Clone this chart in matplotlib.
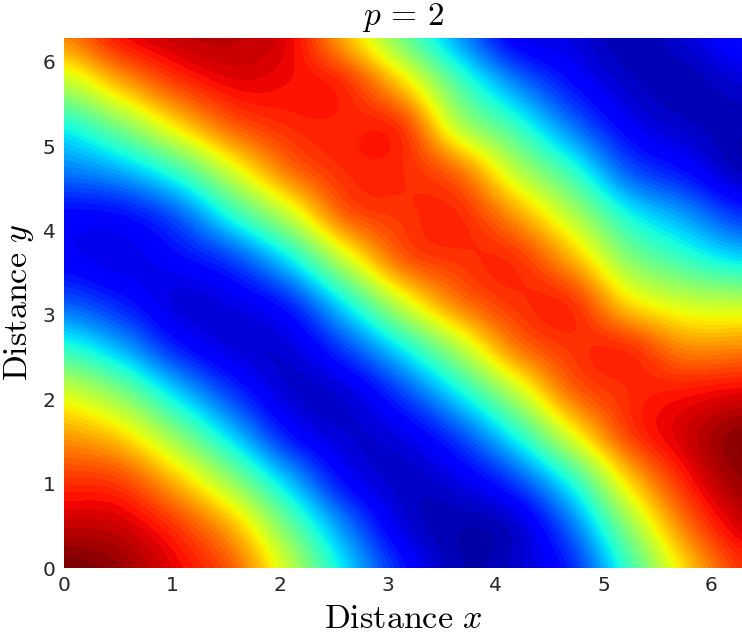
import numpy as np
import matplotlib
matplotlib.use('Agg')
import matplotlib.pyplot as plt

plt.rcParams['mathtext.fontset'] = 'cm'

# grid positions along each axis
x = [0, 0.52, 1.05, 1.57, 2.09, 2.62, 3.14, 3.67, 4.19, 4.71, 5.24, 5.76, 6.28]
y = [0, 0.52, 1.05, 1.57, 2.09, 2.62, 3.14, 3.67, 4.19, 4.71, 5.24, 5.76, 6.28]

# field, one row per x column
z_by_column = [
    [1.00, 0.93, 0.85, 0.74, 0.60, 0.40, 0.22, 0.12, 0.13, 0.25, 0.38, 0.58, 0.76],
    [0.97, 0.92, 0.83, 0.68, 0.50, 0.30, 0.16, 0.10, 0.14, 0.30, 0.50, 0.72, 0.88],
    [0.90, 0.84, 0.70, 0.52, 0.33, 0.16, 0.09, 0.13, 0.22, 0.42, 0.66, 0.84, 0.93],
    [0.80, 0.70, 0.52, 0.33, 0.18, 0.09, 0.10, 0.20, 0.40, 0.61, 0.80, 0.90, 0.94],
    [0.58, 0.47, 0.31, 0.15, 0.08, 0.09, 0.17, 0.36, 0.59, 0.78, 0.86, 0.89, 0.90],
    [0.34, 0.25, 0.13, 0.08, 0.09, 0.20, 0.37, 0.60, 0.80, 0.86, 0.87, 0.85, 0.72],
    [0.15, 0.09, 0.07, 0.10, 0.20, 0.37, 0.60, 0.80, 0.85, 0.86, 0.84, 0.68, 0.50],
    [0.05, 0.05, 0.10, 0.20, 0.37, 0.57, 0.77, 0.85, 0.86, 0.78, 0.58, 0.44, 0.29],
    [0.07, 0.08, 0.20, 0.38, 0.58, 0.77, 0.85, 0.85, 0.74, 0.58, 0.42, 0.26, 0.12],
    [0.17, 0.25, 0.40, 0.62, 0.79, 0.85, 0.85, 0.72, 0.57, 0.41, 0.25, 0.14, 0.09],
    [0.42, 0.53, 0.68, 0.83, 0.86, 0.85, 0.68, 0.52, 0.38, 0.22, 0.12, 0.07, 0.05],
    [0.68, 0.78, 0.87, 0.92, 0.88, 0.76, 0.60, 0.42, 0.28, 0.14, 0.07, 0.05, 0.08],
    [0.85, 0.92, 0.97, 0.98, 0.90, 0.76, 0.58, 0.35, 0.18, 0.06, 0.05, 0.08, 0.14],
]

z = np.array(z_by_column).T
dx = x[1] - x[0]

fig = plt.figure(figsize=(7.42, 6.34), dpi=100)
ax = fig.add_axes([64/742, 1-568/634, 678/742, 530/634])

# stepped colormap keeps the contour banding of the original
ax.imshow(z, origin='lower', cmap=plt.get_cmap('jet', 64), vmin=0, vmax=1,
          extent=[x[0]-dx/2, x[-1]+dx/2, y[0]-dx/2, y[-1]+dx/2], aspect='auto',
          interpolation='catrom', interpolation_stage='data')

ax.set_xlim(0, 2*np.pi)
ax.set_ylim(0, 2*np.pi)
ax.set_xticks([0, 1, 2, 3, 4, 5, 6])
ax.set_yticks([0, 1, 2, 3, 4, 5, 6])
ax.tick_params(length=0, labelsize=14.5, labelcolor='#262626', pad=6)
for s in ax.spines.values():
    s.set_visible(False)

ax.set_xlabel(r'$\mathrm{Distance}\ x$', fontsize=24.5, labelpad=5)
ax.set_ylabel(r'$\mathrm{Distance}\ y$', fontsize=24.5, labelpad=5)
ax.set_title(r'$p\, =\, 2$', fontsize=24, pad=9)

fig.savefig('out.png', dpi=100)
